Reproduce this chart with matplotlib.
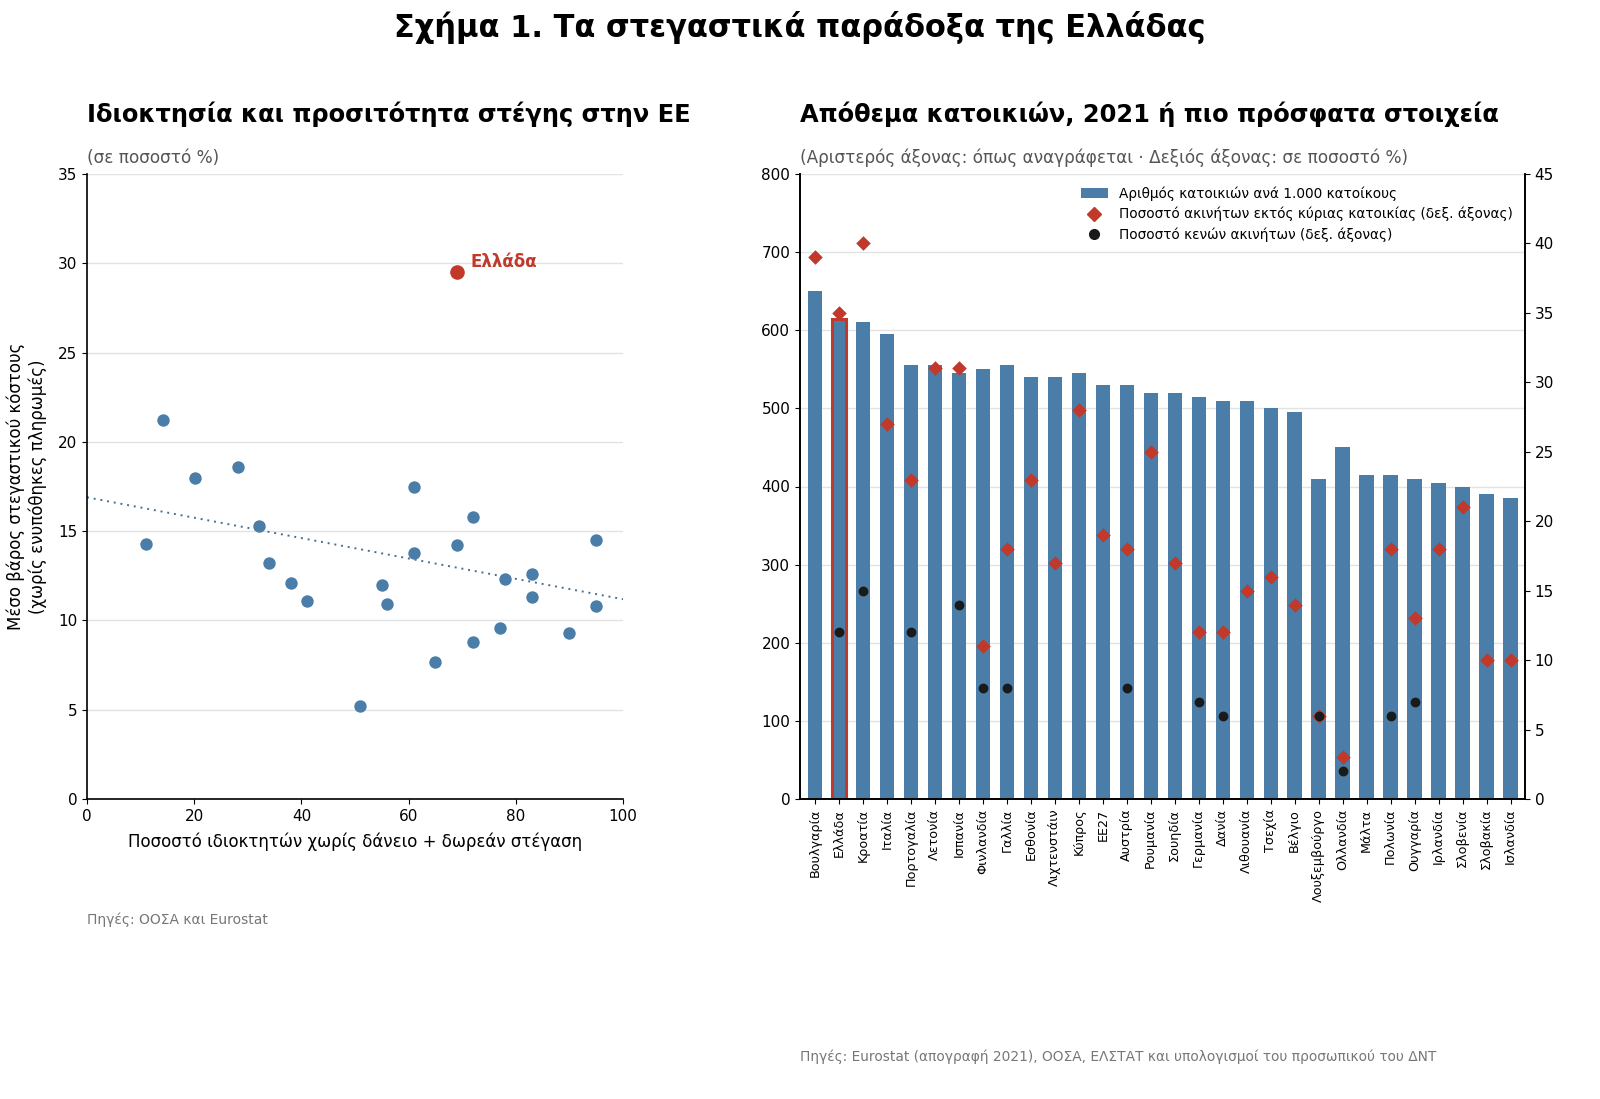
import numpy as np
import matplotlib
matplotlib.use("Agg")
import matplotlib.pyplot as plt
from matplotlib.patches import Patch
from matplotlib.lines import Line2D

plt.rcParams['font.family'] = ['DejaVu Sans']

# ---------------- data: left scatter ----------------
own_outright = [14.1, 11.1, 20.1, 28.1, 32.0, 34.0, 38.0, 41.0, 51.0, 55.0, 56.0, 61.0, 61.0,
                65.0, 72.0, 72.0, 77.0, 78.0, 83.0, 83.0, 90.0, 95.0, 95.0, 69.0]
cost_burden = [21.2, 14.3, 18.0, 18.6, 15.3, 13.2, 12.1, 11.1, 5.2, 12.0, 10.9, 17.5, 13.8,
               7.7, 15.8, 8.8, 9.6, 12.3, 12.6, 11.3, 9.3, 14.5, 10.8, 14.2]
greece_x = 69.0
greece_y = 29.5

# ---------------- data: right bars ----------------
countries = ['Βουλγαρία', 'Ελλάδα', 'Κροατία', 'Ιταλία', 'Πορτογαλία', 'Λετονία', 'Ισπανία',
             'Φινλανδία', 'Γαλλία', 'Εσθονία', 'Λιχτενστάιν', 'Κύπρος', 'ΕΕ27', 'Αυστρία',
             'Ρουμανία', 'Σουηδία', 'Γερμανία', 'Δανία', 'Λιθουανία', 'Τσεχία', 'Βέλγιο',
             'Λουξεμβούργο', 'Ολλανδία', 'Μάλτα', 'Πολωνία', 'Ουγγαρία', 'Ιρλανδία',
             'Σλοβενία', 'Σλοβακία', 'Ισλανδία']
dwellings = [650, 615, 610, 595, 555, 555, 545, 550, 555, 540, 540, 545, 530, 530,
             520, 520, 515, 510, 510, 500, 495, 410, 450, 415, 415, 410, 405, 400, 390, 385]
non_primary = [39, 35, 40, 27, 23, 31, 31, 11, 18, 23, 17, 28, 19, 18,
               25, 17, 12, 12, 15, 16, 14, 6, 3, np.nan, 18, 13, 18, 21, 10, 10]
vacant = [np.nan, 12, 15, np.nan, 12, np.nan, 14, 8, 8, np.nan, np.nan, np.nan, np.nan, 8,
          np.nan, np.nan, 7, 6, np.nan, np.nan, np.nan, 6, 2, np.nan, 6, 7, np.nan, np.nan, np.nan, np.nan]

BLUE = '#4a7ea8'
RED = '#c0392b'
DARK = '#1a1a1a'
GRAY_TXT = '#555555'
GRID = '#e3e3e3'

fig = plt.figure(figsize=(16, 10.99), dpi=100)

# ---------------- left panel ----------------
axL = fig.add_axes([87/1600, 1-799/1099, (623-87)/1600, (799-174)/1099])
axL.scatter(own_outright, cost_burden, s=80, color=BLUE, zorder=3, linewidths=0)
axL.scatter([greece_x], [greece_y], s=110, color=RED, zorder=4, linewidths=0)
axL.text(greece_x + 2.5, greece_y + 0.05, 'Ελλάδα', color=RED, fontsize=12,
         fontweight='bold', va='bottom', ha='left')

allx = np.array(own_outright + [greece_x])
ally = np.array(cost_burden + [greece_y])
slope, intercept = np.polyfit(allx, ally, 1)
xx = np.array([0, 100])
axL.plot(xx, intercept + slope * xx, linestyle=(0, (1, 2.5)), color='#4a6f8a',
         linewidth=1.4, zorder=2)

axL.set_xlim(0, 100)
axL.set_ylim(0, 35)
axL.set_yticks(np.arange(0, 36, 5))
axL.set_xticks(np.arange(0, 101, 20))
axL.grid(axis='y', color=GRID, linewidth=1)
axL.set_axisbelow(True)
for s in ['top', 'right']:
    axL.spines[s].set_visible(False)
axL.spines['left'].set_linewidth(1.2)
axL.spines['bottom'].set_linewidth(1.2)
axL.tick_params(labelsize=11)
axL.set_xlabel('Ποσοστό ιδιοκτητών χωρίς δάνειο + δωρεάν στέγαση', fontsize=12, labelpad=6)
axL.set_ylabel('Μέσο βάρος στεγαστικού κόστους\n(χωρίς ενυπόθηκες πληρωμές)', fontsize=12,
               labelpad=8)

# ---------------- right panel ----------------
axR = fig.add_axes([800/1600, 1-799/1099, (1525-800)/1600, (799-174)/1099])
x = np.arange(len(countries))
bars = axR.bar(x, dwellings, width=0.6, color=BLUE, zorder=2)
gi = countries.index('Ελλάδα')
bars[gi].set_edgecolor(RED)
bars[gi].set_linewidth(2.2)
axR.set_ylim(0, 800)
axR.set_yticks(np.arange(0, 801, 100))
axR.set_xlim(-0.62, len(countries) - 0.4)
axR.set_xticks(x)
axR.set_xticklabels(countries, rotation=90, fontsize=9.2)
axR.grid(axis='y', color=GRID, linewidth=1)
axR.set_axisbelow(True)
axR.spines['top'].set_visible(False)
axR.tick_params(axis='y', labelsize=11)

ax2 = axR.twinx()
ax2.set_ylim(0, 45)
ax2.set_yticks(np.arange(0, 46, 5))
ax2.scatter(x, non_primary, marker='D', s=55, color=RED, zorder=4, linewidths=0)
ax2.scatter(x, vacant, marker='o', s=50, color=DARK, zorder=5, linewidths=0)
ax2.spines['top'].set_visible(False)
ax2.tick_params(axis='y', labelsize=11)
for a in (axR, ax2):
    for s in ['left', 'right', 'bottom']:
        a.spines[s].set_linewidth(1.2)

handles = [Patch(facecolor=BLUE, edgecolor='none'),
           Line2D([], [], marker='D', color=RED, linestyle='none', markersize=7),
           Line2D([], [], marker='o', color=DARK, linestyle='none', markersize=7)]
labels = ['Αριθμός κατοικιών ανά 1.000 κατοίκους',
          'Ποσοστό ακινήτων εκτός κύριας κατοικίας (δεξ. άξονας)',
          'Ποσοστό κενών ακινήτων (δεξ. άξονας)']
ax2.legend(handles, labels, loc='upper right', bbox_to_anchor=(1.0, 1.0), frameon=False,
           fontsize=9.8, handlelength=2.0, handletextpad=0.8, labelspacing=0.45)

# ---------------- texts ----------------
fig.text(0.5, 0.975, 'Σχήμα 1. Τα στεγαστικά παράδοξα της Ελλάδας', ha='center', va='center',
         fontsize=22, fontweight='bold')
fig.text(87/1600, 1-114/1099, 'Ιδιοκτησία και προσιτότητα στέγης στην ΕΕ', ha='left',
         va='center', fontsize=17.4, fontweight='bold')
fig.text(800/1600, 1-114/1099, 'Απόθεμα κατοικιών, 2021 ή πιο πρόσφατα στοιχεία', ha='left',
         va='center', fontsize=17.4, fontweight='bold')
fig.text(87/1600, 1-158/1099, '(σε ποσοστό %)', ha='left', va='center', fontsize=12.2,
         color=GRAY_TXT)
fig.text(800/1600, 1-158/1099, '(Αριστερός άξονας: όπως αναγράφεται · Δεξιός άξονας: σε ποσοστό %)',
         ha='left', va='center', fontsize=12.2, color=GRAY_TXT)
fig.text(87/1600, 1-920/1099, 'Πηγές: ΟΟΣΑ και Eurostat', ha='left', va='center', fontsize=10,
         color='#777777')
fig.text(800/1600, 1-1057/1099,
         'Πηγές: Eurostat (απογραφή 2021), ΟΟΣΑ, ΕΛΣΤΑΤ και υπολογισμοί του προσωπικού του ΔΝΤ',
         ha='left', va='center', fontsize=9.9, color='#777777')

fig.savefig('out.png', dpi=100)
